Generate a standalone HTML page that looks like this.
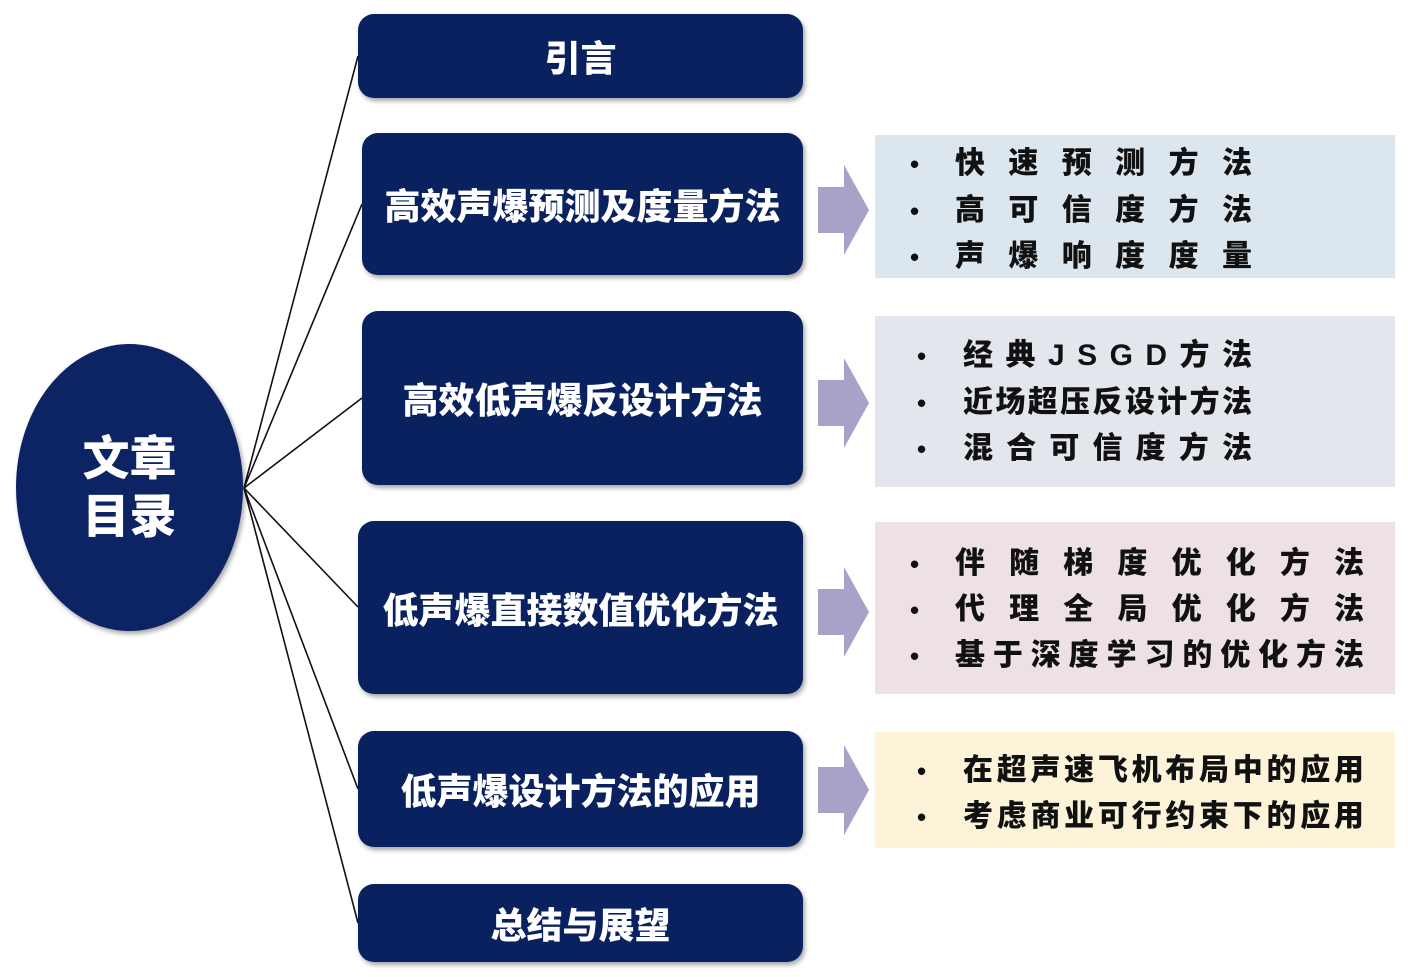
<!DOCTYPE html>
<html><head><meta charset="utf-8"><style>
html,body{margin:0;padding:0;background:#fff;}
body{width:1408px;height:977px;position:relative;overflow:hidden;font-family:"Liberation Sans","Noto Sans CJK SC",sans-serif;}
.ell{position:absolute;left:16px;top:344px;width:227px;height:287px;border-radius:50%;background:#0c2464;box-shadow:2px 3px 5px rgba(0,0,0,.35);color:#fff;font-weight:900;font-size:47px;line-height:58px;text-align:center;display:flex;align-items:center;justify-content:center;}
.b{position:absolute;background:#0a2160;border-radius:16px;box-shadow:2px 3px 5px rgba(0,0,0,.35);color:#fff;font-weight:900;font-size:36px;display:flex;align-items:center;justify-content:center;}
.r{position:absolute;left:875px;width:520px;}
.ln{position:absolute;display:flex;justify-content:space-between;font-weight:900;font-size:30px;line-height:36px;color:#111;}
.dot{position:absolute;font-weight:900;font-size:26px;line-height:36px;color:#111;}
svg{position:absolute;left:0;top:0;}
</style></head><body>
<svg width="1408" height="977">
<g stroke="#111" stroke-width="1.6" fill="none">
<line x1="244" y1="488" x2="358" y2="56"/>
<line x1="244" y1="488" x2="362" y2="204"/>
<line x1="244" y1="488" x2="362" y2="398"/>
<line x1="244" y1="488" x2="358" y2="607"/>
<line x1="244" y1="488" x2="358" y2="789"/>
<line x1="244" y1="488" x2="358" y2="923"/>
</g>
<g fill="#a8a2c8">
<polygon points="818,187 844,187 844,165 869,210 844,255 844,233 818,233"/>
<polygon points="818,380 844,380 844,358 869,403 844,448 844,426 818,426"/>
<polygon points="818,589 844,589 844,567 869,612 844,657 844,635 818,635"/>
<polygon points="818,767 844,767 844,745 869,790 844,835 844,813 818,813"/>
</g>
</svg>
<div class="ell"><div>文章<br>目录</div></div>
<div class="b" style="left:358px;top:14px;width:445px;height:84px;">引言</div>
<div class="b" style="left:362px;top:133px;width:441px;height:142px;">高效声爆预测及度量方法</div>
<div class="b" style="left:362px;top:311px;width:441px;height:174px;">高效低声爆反设计方法</div>
<div class="b" style="left:358px;top:521px;width:445px;height:173px;">低声爆直接数值优化方法</div>
<div class="b" style="left:358px;top:731px;width:445px;height:116px;">低声爆设计方法的应用</div>
<div class="b" style="left:358px;top:884px;width:445px;height:78px;">总结与展望</div>

<div class="r" style="top:135px;height:143px;background:#dce6ef;"></div>
<div class="r" style="top:316px;height:171px;background:#e3e6ec;"></div>
<div class="r" style="top:522px;height:172px;background:#ede1e6;"></div>
<div class="r" style="top:732px;height:116px;background:#fcf3d8;"></div>

<div class="dot" style="left:910px;top:146px">•</div>
<div class="ln" style="left:955px;top:146px;width:297px"><span>快</span><span>速</span><span>预</span><span>测</span><span>方</span><span>法</span></div>
<div class="dot" style="left:910px;top:193px">•</div>
<div class="ln" style="left:955px;top:193px;width:297px"><span>高</span><span>可</span><span>信</span><span>度</span><span>方</span><span>法</span></div>
<div class="dot" style="left:910px;top:239px">•</div>
<div class="ln" style="left:955px;top:239px;width:297px"><span>声</span><span>爆</span><span>响</span><span>度</span><span>度</span><span>量</span></div>

<div class="dot" style="left:917px;top:338px">•</div>
<div class="ln" style="left:963px;top:338px;width:289px"><span>经</span><span>典</span><span>J</span><span>S</span><span>G</span><span>D</span><span>方</span><span>法</span></div>
<div class="dot" style="left:917px;top:385px">•</div>
<div class="ln" style="left:963px;top:385px;width:289px"><span>近</span><span>场</span><span>超</span><span>压</span><span>反</span><span>设</span><span>计</span><span>方</span><span>法</span></div>
<div class="dot" style="left:917px;top:431px">•</div>
<div class="ln" style="left:963px;top:431px;width:289px"><span>混</span><span>合</span><span>可</span><span>信</span><span>度</span><span>方</span><span>法</span></div>

<div class="dot" style="left:910px;top:546px">•</div>
<div class="ln" style="left:955px;top:546px;width:409px"><span>伴</span><span>随</span><span>梯</span><span>度</span><span>优</span><span>化</span><span>方</span><span>法</span></div>
<div class="dot" style="left:910px;top:592px">•</div>
<div class="ln" style="left:955px;top:592px;width:409px"><span>代</span><span>理</span><span>全</span><span>局</span><span>优</span><span>化</span><span>方</span><span>法</span></div>
<div class="dot" style="left:910px;top:638px">•</div>
<div class="ln" style="left:955px;top:638px;width:409px"><span>基</span><span>于</span><span>深</span><span>度</span><span>学</span><span>习</span><span>的</span><span>优</span><span>化</span><span>方</span><span>法</span></div>

<div class="dot" style="left:917px;top:753px">•</div>
<div class="ln" style="left:963px;top:753px;width:401px"><span>在</span><span>超</span><span>声</span><span>速</span><span>飞</span><span>机</span><span>布</span><span>局</span><span>中</span><span>的</span><span>应</span><span>用</span></div>
<div class="dot" style="left:917px;top:799px">•</div>
<div class="ln" style="left:963px;top:799px;width:401px"><span>考</span><span>虑</span><span>商</span><span>业</span><span>可</span><span>行</span><span>约</span><span>束</span><span>下</span><span>的</span><span>应</span><span>用</span></div>
</body></html>
